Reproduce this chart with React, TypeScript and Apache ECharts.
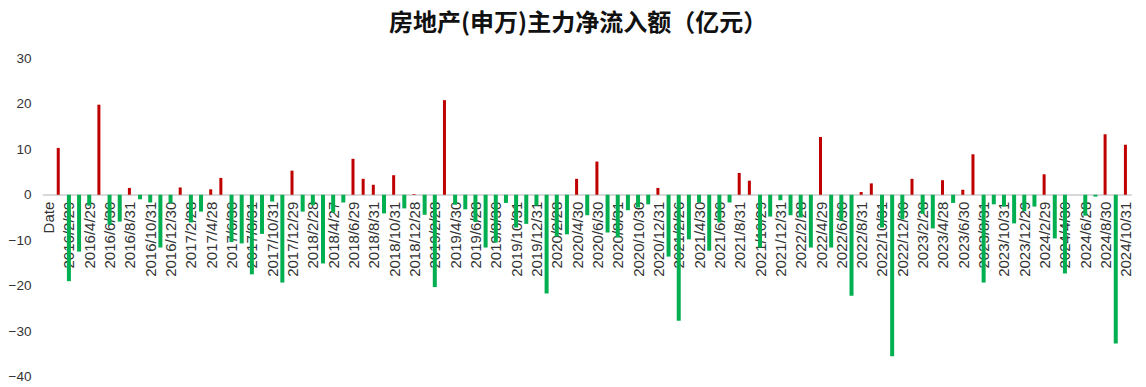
import React, { useEffect, useRef } from "react";
import * as echarts from "echarts";

const titleText = "房地产(申万)主力净流入额（亿元）";

const categories: string[] = [
  "Date",
  "2016/1/29", "2016/2/29", "2016/3/31", "2016/4/29", "2016/5/31", "2016/6/30",
  "2016/7/29", "2016/8/31", "2016/9/30", "2016/10/31", "2016/11/30", "2016/12/30",
  "2017/1/26", "2017/2/28", "2017/3/31", "2017/4/28", "2017/5/31", "2017/6/30",
  "2017/7/31", "2017/8/31", "2017/9/29", "2017/10/31", "2017/11/30", "2017/12/29",
  "2018/1/31", "2018/2/28", "2018/3/30", "2018/4/27", "2018/5/31", "2018/6/29",
  "2018/7/31", "2018/8/31", "2018/9/28", "2018/10/31", "2018/11/30", "2018/12/28",
  "2019/1/31", "2019/2/28", "2019/3/29", "2019/4/30", "2019/5/31", "2019/6/28",
  "2019/7/31", "2019/8/30", "2019/9/30", "2019/10/31", "2019/11/29", "2019/12/31",
  "2020/1/23", "2020/2/28", "2020/3/31", "2020/4/30", "2020/5/29", "2020/6/30",
  "2020/7/31", "2020/8/31", "2020/9/30", "2020/10/30", "2020/11/30", "2020/12/31",
  "2021/1/29", "2021/2/26", "2021/3/31", "2021/4/30", "2021/5/31", "2021/6/30",
  "2021/7/30", "2021/8/31", "2021/9/30", "2021/10/29", "2021/11/30", "2021/12/31",
  "2022/1/28", "2022/2/28", "2022/3/31", "2022/4/29", "2022/5/31", "2022/6/30",
  "2022/7/29", "2022/8/31", "2022/9/30", "2022/10/31", "2022/11/30", "2022/12/30",
  "2023/1/31", "2023/2/28", "2023/3/31", "2023/4/28", "2023/5/31", "2023/6/30",
  "2023/7/31", "2023/8/31", "2023/9/28", "2023/10/31", "2023/11/30", "2023/12/29",
  "2024/1/31", "2024/2/29", "2024/3/29", "2024/4/30", "2024/5/31", "2024/6/28",
  "2024/7/31", "2024/8/30", "2024/9/30", "2024/10/31",
];

const netInflow: (number | null)[] = [
  null,
  10.3, -19.0, -12.5, -2.4, 19.8, -6.6,
  -5.9, 1.5, -1.0, -1.7, -11.6, -1.9,
  1.6, -6.1, -3.7, 1.2, 3.7, -10.4,
  -10.7, -17.5, -8.6, -1.5, -19.3, 5.3,
  -3.7, -2.3, -15.1, -3.9, -1.7, 7.9,
  3.5, 2.2, -4.1, 4.3, -3.0, 0.15,
  -4.4, -20.3, 20.8, -2.2, -3.2, -6.0,
  -11.6, -10.5, -1.8, -7.2, -6.4, -2.4,
  -21.7, -9.2, -8.7, 3.5, -4.5, 7.3,
  -8.3, -9.4, -3.4, -2.8, -2.1, 1.5,
  -13.6, -27.7, -9.8, -1.7, -12.3, -6.1,
  -1.7, 4.8, 3.1, -11.6, -4.8, -1.2,
  -4.5, -5.0, -11.6, 12.7, -11.6, -5.7,
  -22.2, 0.6, 2.5, -7.2, -35.5, -5.4,
  3.5, -4.2, -7.4, 3.2, -1.8, 1.1,
  8.9, -19.3, -2.1, -2.6, -6.3, -3.6,
  -2.6, 4.5, -9.6, -17.3, 0, -4.6,
  -0.4, 13.3, -32.7, 11.0,
];

const yMin = -40;
const yMax = 30;
const yStep = 10;

const RED = "#c00000";
const GREEN = "#00b050";

const GRID_TOP = 58.3;
const GRID_BOTTOM = 10.3;
const CHART_H = 387;
const SANS = "'Liberation Sans', Arial, sans-serif";

export default function App() {
  const ref = useRef<HTMLDivElement>(null);

  useEffect(() => {
    if (!ref.current) return;
    const chart = echarts.init(ref.current, null, { renderer: "svg" });
    const positive = netInflow.map((v) => (v !== null && v > 0 ? v : null));
    const negative = netInflow.map((v) => (v !== null && v < 0 ? v : null));
    // distance of the zero line above the bottom edge of the grid
    const plotH = CHART_H - GRID_TOP - GRID_BOTTOM;
    const zeroFromBottom = (plotH * (0 - yMin)) / (yMax - yMin);
    chart.setOption({
      animation: false,
      backgroundColor: "#ffffff",
      title: {
        text: titleText,
        left: 384,
        top: 3,
        textStyle: {
          fontFamily: "Noto Sans CJK SC",
          fontSize: 24,
          fontWeight: "bold",
          color: "#111111",
        },
      },
      grid: {
        left: 43.5,
        right: 15,
        top: GRID_TOP,
        bottom: GRID_BOTTOM,
        containLabel: false,
        outerBoundsMode: "none",
      },
      xAxis: {
        type: "category",
        data: categories,
        position: "bottom",
        offset: -zeroFromBottom,
        axisLine: { onZero: false, lineStyle: { color: "#d9d9d9", width: 2 } },
        axisTick: { show: false },
        axisLabel: {
          interval: 1,
          rotate: 90,
          margin: 7,
          fontFamily: SANS,
          fontSize: 15,
          color: "#333333",
        },
        splitLine: { show: false },
      },
      yAxis: {
        type: "value",
        min: yMin,
        max: yMax,
        interval: yStep,
        axisLine: { show: false },
        axisTick: { show: false },
        splitLine: { show: false },
        axisLabel: {
          margin: 12,
          fontFamily: SANS,
          fontSize: 13.5,
          color: "#333333",
          formatter: (v: number) => (v < 0 ? "\u2212" + Math.abs(v) : String(v)),
        },
      },
      series: [
        {
          type: "bar",
          data: positive,
          barWidth: 3,
          barGap: "-100%",
          itemStyle: { color: RED },
        },
        {
          type: "bar",
          data: negative,
          barWidth: 4,
          barGap: "-100%",
          itemStyle: { color: GREEN },
        },
      ],
    });
    return () => chart.dispose();
  }, []);

  return (
    <div
      ref={ref}
      style={{ position: "absolute", left: 0, top: 0, width: 1146, height: 387 }}
    />
  );
}
